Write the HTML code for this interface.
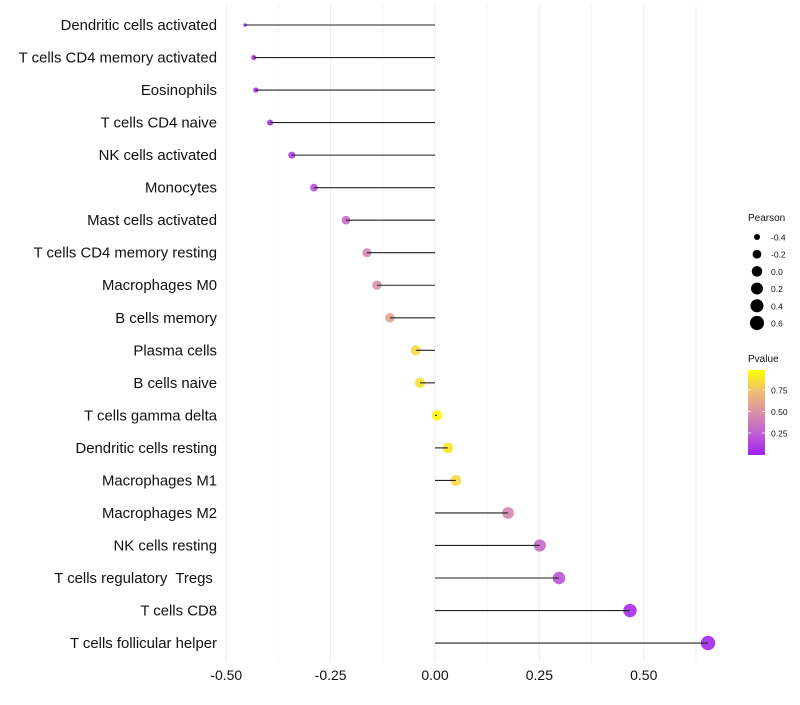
<!DOCTYPE html>
<html><head><meta charset="utf-8"><style>
body{margin:0;background:#fff;font-family:"Liberation Sans",sans-serif}
text{white-space:pre}
</style></head><body>
<svg id="chart" width="800" height="700" xmlns="http://www.w3.org/2000/svg" font-family="Liberation Sans, sans-serif"></svg>
<script>
const categories=["Dendritic cells activated","T cells CD4 memory activated","Eosinophils","T cells CD4 naive","NK cells activated","Monocytes","Mast cells activated","T cells CD4 memory resting","Macrophages M0","B cells memory","Plasma cells","B cells naive","T cells gamma delta","Dendritic cells resting","Macrophages M1","Macrophages M2","NK cells resting","T cells regulatory  Tregs ","T cells CD8","T cells follicular helper"];
const pearson=[-0.455,-0.434,-0.429,-0.395,-0.343,-0.290,-0.213,-0.163,-0.139,-0.108,-0.046,-0.036,0.005,0.031,0.050,0.175,0.251,0.297,0.467,0.654];
const pvalues=[0.02,0.03,0.04,0.08,0.12,0.2,0.3,0.45,0.5,0.6,0.85,0.88,0.98,0.9,0.85,0.45,0.3,0.2,0.05,0.03];
const xTicks=[-0.5,-0.25,0,0.25,0.5];
const xTickLabels=["-0.50","-0.25","0.00","0.25","0.50"];
const minorTicks=[-0.375,-0.125,0.125,0.375,0.625];
const sizeLegend=[-0.4,-0.2,0.0,0.2,0.4,0.6];
const pLegendTicks=[0.25,0.5,0.75];

const svg=document.getElementById('chart');
const NS="http://www.w3.org/2000/svg";
function mk(tag,attrs,parent){const e=document.createElementNS(NS,tag);for(const k in attrs)e.setAttribute(k,attrs[k]);(parent||svg).appendChild(e);return e;}
const x=v=>435+v*417.5;
const y=i=>25+i*32.53;
const r=v=>1.8+5.4*Math.sqrt(Math.max(0,(v+0.455)/1.109));
const stops=[[0,[160,32,240]],[0.25,[192,96,208]],[0.5,[218,143,168]],[0.75,[239,191,112]],[1,[255,255,0]]];
function col(p){for(let i=1;i<stops.length;i++){if(p<=stops[i][0]){const a=stops[i-1],b=stops[i];const t=(p-a[0])/(b[0]-a[0]);return 'rgb('+a[1].map((c,j)=>Math.round(c+(b[1][j]-c)*t)).join(',')+')';}}return 'rgb(255,255,0)';}

minorTicks.forEach(t=>{const l=mk('line',{x1:x(t),x2:x(t),y1:5,y2:662,stroke:'#f5f5f5','stroke-width':1});

});
xTicks.forEach((t,i)=>{const l=mk('line',{x1:x(t),x2:x(t),y1:5,y2:662,stroke:'#ededed','stroke-width':1});


const tx=mk('text',{x:x(t),y:680,'text-anchor':'middle','font-size':14,fill:'#111'});tx.textContent=xTickLabels[i];

});

categories.forEach((c,i)=>{
const t=mk('text',{x:217,y:y(i)+5,'text-anchor':'end','font-size':14.9,fill:'#111'});t.textContent=c;


const p=mk('circle',{cx:x(pearson[i]),cy:y(i),r:r(pearson[i]),fill:col(pvalues[i]),'fill-opacity':0.9});


const s=mk('line',{x1:x(0),x2:x(pearson[i]),y1:y(i),y2:y(i),stroke:'#222','stroke-width':1.1});


});

const lt=mk('text',{x:748,y:221,'font-size':10,fill:'#111'});lt.textContent='Pearson';


sizeLegend.forEach((v,i)=>{const cy=237+i*17.2;
const c=mk('circle',{cx:757,cy:cy,r:r(v),fill:'#000'});


const t=mk('text',{x:771,y:cy+3.5,'font-size':8.5,fill:'#111'});t.textContent=v.toFixed(1);

});

const pt=mk('text',{x:748,y:362,'font-size':10,fill:'#111'});pt.textContent='Pvalue';


const defs=mk('defs',{});const g=mk('linearGradient',{id:'pg',x1:0,y1:1,x2:0,y2:0},defs);
stops.forEach(s=>mk('stop',{offset:s[0],'stop-color':col(s[0])},g));
const bar=mk('rect',{x:748,y:370,width:17,height:85,fill:'url(#pg)'});


pLegendTicks.forEach(v=>{const cy=454.5-v*86;
const t=mk('text',{x:771,y:cy+3.5,'font-size':8.5,fill:'#111'});t.textContent=v.toFixed(2);


mk('line',{x1:748,x2:751,y1:cy,y2:cy,stroke:'#fff','stroke-width':0.8});mk('line',{x1:762,x2:765,y1:cy,y2:cy,stroke:'#fff','stroke-width':0.8});});
</script>
</body></html>
